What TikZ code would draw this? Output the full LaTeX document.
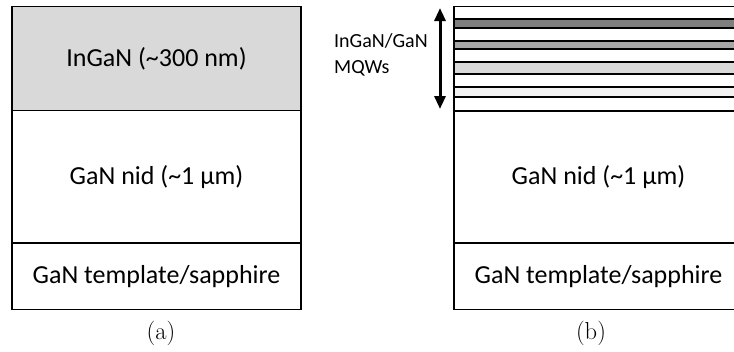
\documentclass[tikz,border=0pt]{standalone}
\usepackage{fontspec}
\newfontfamily\calib{Carlito}
\usetikzlibrary{arrows.meta}
\definecolor{fillA}{RGB}{217,217,217}
\definecolor{qw1}{RGB}{127,127,127}
\definecolor{qw2}{RGB}{166,166,166}
\definecolor{qw3}{RGB}{217,217,217}
\definecolor{qw4}{RGB}{242,242,242}
\begin{document}
\begin{tikzpicture}[x=1pt,y=-1pt,
  layer/.style={draw=black, line width=1.3pt, inner sep=0pt, minimum width=289pt,
    font=\calib\fontsize{26}{30}\selectfont},
  qwell/.style={draw=black, line width=1.7pt},
  caption/.style={font=\fontsize{24.5}{28}\selectfont, inner sep=0pt}]
\useasboundingbox (0,0) rectangle (734,351);
\clip (0,0) rectangle (734,351);
% (a)
\node[layer, fill=fillA, minimum height=104pt] (ingan) at (156.5,58.5) {InGaN (\textasciitilde300 nm)};
\node[layer, minimum height=132.5pt] (nidA) at (156.5,176.75) {GaN nid (\textasciitilde1 µm)};
\node[layer, minimum height=66.5pt] (tplA) at (156.5,276.25) {GaN template/sapphire};
% (b)
\node[layer, minimum height=104pt] (mqw) at (598.5,58.5) {};
\draw[qwell, fill=qw1] (454,19) rectangle (745,28);
\draw[qwell, fill=qw2] (454,41) rectangle (745,49);
\draw[qwell, fill=qw3] (454,62) rectangle (745,74);
\draw[qwell, fill=qw4] (454,87) rectangle (745,97);
\node[layer, minimum height=132.5pt] (nidB) at (598.5,176.75) {GaN nid (\textasciitilde1 µm)};
\node[layer, minimum height=66.5pt] (tplB) at (598.5,276.25) {GaN template/sapphire};
\draw[line width=2.6pt] (mqw.south west) -- (mqw.south east);
% arrow and label
\coordinate (arrTop) at (440,8);
\coordinate (arrBot) at (440,109);
\draw[line width=3pt, {Triangle[width=11pt,length=13pt]}-{Triangle[width=11pt,length=13pt]}] (arrTop) -- (arrBot);
\node[anchor=west, align=left, inner sep=0pt, font=\calib\fontsize{20}{26}\selectfont] (mqwlabel) at (334,55) {InGaN/GaN\\MQWs};
% captions
\node[caption] (capa) at (161,333) {(a)};
\node[caption] (capb) at (591,333) {(b)};
\end{tikzpicture}
\end{document}
